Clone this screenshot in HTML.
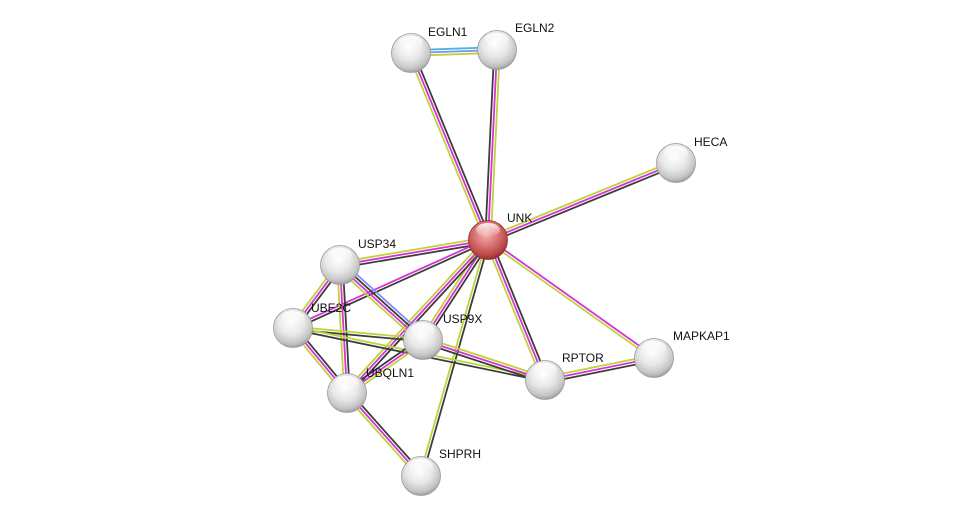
<!DOCTYPE html>
<html><head><meta charset="utf-8"><style>
html,body{margin:0;padding:0;background:#fff;width:976px;height:521px;overflow:hidden}
svg{display:block}
text{font-family:"Liberation Sans",sans-serif;font-size:12px;fill:#111}
</style></head><body>
<svg id="s" width="976" height="521" viewBox="0 0 976 521" xmlns="http://www.w3.org/2000/svg">
<defs>
<radialGradient id="g" cx="45%" cy="35%" r="65%">
<stop offset="0" stop-color="#ffffff"/><stop offset="0.5" stop-color="#e8e8e8"/><stop offset="0.85" stop-color="#c4c4c4"/><stop offset="1" stop-color="#a0a0a0"/>
</radialGradient>
<radialGradient id="r" cx="45%" cy="35%" r="65%">
<stop offset="0" stop-color="#f2b4b4"/><stop offset="0.5" stop-color="#d97070"/><stop offset="0.85" stop-color="#b84545"/><stop offset="1" stop-color="#943030"/>
</radialGradient>
<linearGradient id="hl" x1="0" y1="0" x2="0" y2="1"><stop offset="0" stop-color="#fff" stop-opacity="0.9"/><stop offset="1" stop-color="#fff" stop-opacity="0"/></linearGradient>
</defs>
<g id="edges"></g>
<g id="nodes"></g>
<text x="428" y="36">EGLN1</text>
<text x="515" y="32">EGLN2</text>
<text x="694" y="146">HECA</text>
<text x="507" y="222">UNK</text>
<text x="358" y="248">USP34</text>
<text x="311" y="312">UBE2C</text>
<text x="443" y="323">USP9X</text>
<text x="366" y="377">UBQLN1</text>
<text x="562" y="362">RPTOR</text>
<text x="673" y="340">MAPKAP1</text>
<text x="439" y="458">SHPRH</text>
</svg>
<script>
var N={EGLN1:[411,53],EGLN2:[497,50],HECA:[676,163],UNK:[488,240],USP34:[340,265],UBE2C:[293,328],USP9X:[423,340],UBQLN1:[347,393],RPTOR:[545,380],MAPKAP1:[654,358],SHPRH:[421,476]};
var K='#3c3c3c',M='#d633d6',Y='#bcd43a',B='#7f8ff0',C='#46b8e8';
var E=[
['UNK','EGLN1',[Y,M,K]],['UNK','EGLN2',[K,M,Y]],['EGLN1','EGLN2',[C,B,Y]],
['UNK','HECA',[Y,M,K]],['UNK','USP34',[K,M,Y]],['UNK','UBE2C',[K,M]],
['UNK','USP9X',[K,M,Y]],['UNK','UBQLN1',[K,M,Y]],['UNK','RPTOR',[K,M,Y]],
['UNK','MAPKAP1',[M,Y]],['UNK','SHPRH',[K,Y]],
['USP34','UBE2C',[K,M,Y]],['USP34','UBQLN1',[K,M,Y]],['USP34','USP9X',[B,K,M,Y]],
['UBE2C','USP9X',[Y,K]],['UBE2C','RPTOR',[Y,K]],['USP9X','RPTOR',[Y,M,K]],
['UBE2C','UBQLN1',[K,M,Y]],['UBQLN1','USP9X',[K,M,Y]],['UBQLN1','SHPRH',[K,M,Y]],
['RPTOR','MAPKAP1',[Y,M,K]]];
var ns='http://www.w3.org/2000/svg',eg=document.getElementById('edges'),ng=document.getElementById('nodes');
E.forEach(function(e){var a=N[e[0]],b=N[e[1]],dx=b[0]-a[0],dy=b[1]-a[1],L=Math.hypot(dx,dy),px=-dy/L,py=dx/L,n=e[2].length;
e[2].forEach(function(c,i){var o=(i-(n-1)/2)*2.8,l=document.createElementNS(ns,'line');
l.setAttribute('x1',a[0]+px*o);l.setAttribute('y1',a[1]+py*o);l.setAttribute('x2',b[0]+px*o);l.setAttribute('y2',b[1]+py*o);
l.setAttribute('stroke',c);l.setAttribute('stroke-width','1.8');eg.appendChild(l);});});
for(var k in N){var p=N[k],c=document.createElementNS(ns,'circle');
c.setAttribute('cx',p[0]);c.setAttribute('cy',p[1]);c.setAttribute('r',19.5);
c.setAttribute('fill',k=='UNK'?'url(#r)':'url(#g)');c.setAttribute('stroke',k=='UNK'?'#8a3030':'#9a9a9a');c.setAttribute('stroke-width','0.8');ng.appendChild(c);
var h=document.createElementNS(ns,'ellipse');h.setAttribute('cx',p[0]);h.setAttribute('cy',p[1]-10);h.setAttribute('rx',12);h.setAttribute('ry',7);h.setAttribute('fill','url(#hl)');ng.appendChild(h);}
</script>
</body></html>
